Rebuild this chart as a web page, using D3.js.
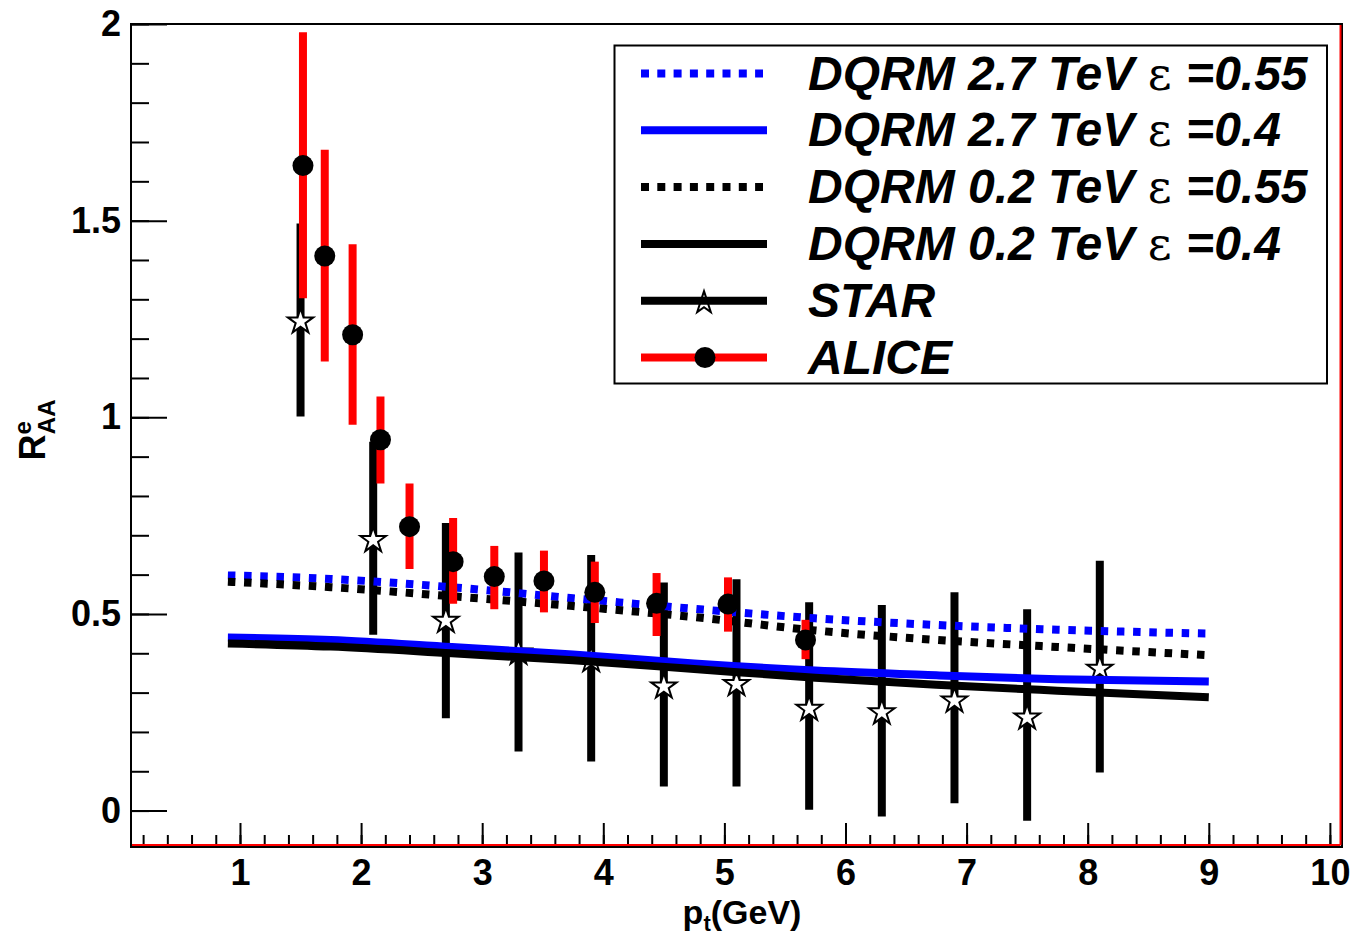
<!DOCTYPE html>
<html>
<head>
<meta charset="utf-8">
<script src="https://cdn.jsdelivr.net/npm/d3@7"></script>
<style>
  body { margin: 0; background: #fff; }
  text { font-family: "Liberation Sans", Arial, sans-serif; font-weight: bold; }
</style>
</head>
<body>
<div class="canvas"></div>
<script>
// model curves (pt in GeV)
const curveX = [0.9, 1.75, 2.75, 3.75, 4.75, 5.75, 6.75, 7.75, 9.0];
const lhc055 = [0.598, 0.589, 0.568, 0.540, 0.513, 0.489, 0.472, 0.460, 0.450];
const lhc04 = [0.440, 0.434, 0.416, 0.397, 0.374, 0.356, 0.344, 0.334, 0.328];
const rhic055 = [0.582, 0.568, 0.545, 0.520, 0.492, 0.458, 0.434, 0.416, 0.395];
const rhic04 = [0.425, 0.417, 0.400, 0.382, 0.360, 0.338, 0.320, 0.305, 0.288];

// STAR data
const starX = [1.5, 2.1, 2.7, 3.3, 3.9, 4.5, 5.1, 5.7, 6.3, 6.9, 7.5, 8.1];
const starY = [1.246, 0.690, 0.485, 0.404, 0.385, 0.318, 0.324, 0.261, 0.252, 0.282, 0.239, 0.363];
const starHi = [1.493, 0.938, 0.731, 0.656, 0.650, 0.580, 0.588, 0.530, 0.523, 0.555, 0.512, 0.635];
const starLo = [1.002, 0.447, 0.235, 0.150, 0.125, 0.061, 0.061, 0.002, -0.015, 0.019, -0.026, 0.097];

// ALICE data
const aliceX = [1.52, 1.70, 1.93, 2.16, 2.40, 2.76, 3.10, 3.51, 3.93, 4.44, 5.03, 5.67];
const aliceY = [1.640, 1.410, 1.210, 0.943, 0.722, 0.633, 0.595, 0.584, 0.555, 0.527, 0.525, 0.434];
const aliceHi = [1.979, 1.680, 1.440, 1.053, 0.832, 0.744, 0.673, 0.661, 0.633, 0.604, 0.593, 0.485];
const aliceLo = [1.303, 1.142, 0.981, 0.832, 0.614, 0.526, 0.512, 0.504, 0.477, 0.444, 0.455, 0.385];

const xTicks = [1, 2, 3, 4, 5, 6, 7, 8, 9, 10];
const yTicks = [0, 0.5, 1, 1.5, 2];
const legendNames = ['DQRM 2.7 TeV ', 'DQRM 2.7 TeV ', 'DQRM 0.2 TeV ', 'DQRM 0.2 TeV ', 'STAR', 'ALICE'];
const legendEps = ['=0.55', '=0.4', '=0.55', '=0.4', null, null];

const width = 1353, height = 936;

const svg = d3.select('.canvas').append('svg')
    .attr('width', width)
    .attr('height', height);

const x = d3.scaleLinear().domain([0.1, 10.1]).range([131, 1342]);
const y = d3.scaleLinear().domain([-0.09, 2]).range([846, 24]);

// minor ticks
svg.append('g')
    .attr('transform', 'translate(0,846)')
    .call(d3.axisBottom(x).tickValues(d3.range(0.2, 10.05, 0.2)).tickSize(-11).tickFormat(''))
    .call(g => g.select('.domain').remove())
    .selectAll('line').attr('stroke-width', 2);
svg.append('g')
    .attr('transform', 'translate(131,0)')
    .call(d3.axisLeft(y).tickValues(d3.range(0, 2.0001, 0.1)).tickSize(-18).tickFormat(''))
    .call(g => g.select('.domain').remove())
    .selectAll('line').attr('stroke-width', 2);

// major ticks + labels
const xAxis = svg.append('g')
    .attr('transform', 'translate(0,846)')
    .call(d3.axisBottom(x).tickValues(xTicks).tickSize(-23).tickPadding(13).tickFormat(d3.format('d')));
xAxis.select('.domain').remove();
xAxis.selectAll('line').attr('stroke-width', 2);
xAxis.selectAll('text').style('font-size', '36px').attr('fill', '#000');

const yAxis = svg.append('g')
    .attr('transform', 'translate(131,0)')
    .call(d3.axisLeft(y).tickValues(yTicks).tickSize(-36).tickPadding(10).tickFormat(d => d));
yAxis.select('.domain').remove();
yAxis.selectAll('line').attr('stroke-width', 2);
yAxis.selectAll('text').style('font-size', '36px').attr('fill', '#000');

// frame
svg.append('rect')
    .attr('x', 131).attr('y', 24)
    .attr('width', 1342 - 131).attr('height', 847 - 24)
    .attr('fill', 'none').attr('stroke', '#000').attr('stroke-width', 2);
svg.append('line') // red lines inside the bottom and right edge
    .attr('x1', 132).attr('x2', 1340.5).attr('y1', 845).attr('y2', 845)
    .attr('stroke', 'red').attr('stroke-width', 2);
svg.append('line')
    .attr('x1', 1340.5).attr('x2', 1340.5).attr('y1', 25).attr('y2', 845)
    .attr('stroke', 'red').attr('stroke-width', 2);

// STAR error bars and stars
svg.append('g').selectAll('line')
    .data(starX)
    .enter().append('line')
    .attr('x1', d => x(d)).attr('x2', d => x(d))
    .attr('y1', (d, i) => y(starHi[i])).attr('y2', (d, i) => y(starLo[i]))
    .attr('stroke', '#000').attr('stroke-width', 8);
svg.append('g').selectAll('path')
    .data(starX)
    .enter().append('path')
    .attr('d', d3.symbol(d3.symbolStar, 200))
    .attr('transform', (d, i) => `translate(${x(d)},${y(starY[i]) + 1})`)
    .attr('fill', '#fff').attr('stroke', '#000').attr('stroke-width', 2);

// model curves
const line = d3.line()
    .x((d, i) => x(curveX[i]))
    .y(d => y(d))
    .curve(d3.curveMonotoneX);
const curves = [
    { v: lhc055, c: 'blue', dash: '7.5,8.7' },
    { v: lhc04, c: 'blue', dash: null },
    { v: rhic055, c: '#000', dash: '7.5,8.7' },
    { v: rhic04, c: '#000', dash: null }
];
curves.forEach(k => {
    svg.append('path')
        .attr('d', line(k.v))
        .attr('fill', 'none')
        .attr('stroke', k.c)
        .attr('stroke-width', 8)
        .attr('stroke-dasharray', k.dash);
});

// ALICE error bars and circles
svg.append('g').selectAll('line')
    .data(aliceX)
    .enter().append('line')
    .attr('x1', d => x(d)).attr('x2', d => x(d))
    .attr('y1', (d, i) => y(aliceHi[i])).attr('y2', (d, i) => y(aliceLo[i]))
    .attr('stroke', 'red').attr('stroke-width', 8);
svg.append('g').selectAll('circle')
    .data(aliceX)
    .enter().append('circle')
    .attr('cx', d => x(d)).attr('cy', (d, i) => y(aliceY[i]))
    .attr('r', 10.5).attr('fill', '#000');

// legend
const legend = svg.append('g');
legend.append('rect')
    .attr('x', 614.5).attr('y', 45.5)
    .attr('width', 1327 - 614.5).attr('height', 383.5 - 45.5)
    .attr('fill', '#fff').attr('stroke', '#000').attr('stroke-width', 2);

const rowY = i => 73.5 + i * 56.8;
legendNames.forEach((name, i) => {
    const cy = rowY(i);
    const col = (i === 0 || i === 1) ? 'blue' : (i === 5 ? 'red' : '#000');
    const dotted = (i === 0 || i === 2);
    legend.append('line')
        .attr('x1', 641).attr('x2', dotted ? 763 : 767)
        .attr('y1', cy).attr('y2', cy)
        .attr('stroke', col).attr('stroke-width', 8)
        .attr('stroke-dasharray', dotted ? '8,8.3' : null);
    if (i === 4) {
        legend.append('path')
            .attr('d', d3.symbol(d3.symbolStar, 150))
            .attr('transform', `translate(704,${cy + 2})`)
            .attr('fill', 'none').attr('stroke', '#000').attr('stroke-width', 2);
    }
    if (i === 5) {
        legend.append('circle')
            .attr('cx', 705).attr('cy', cy).attr('r', 10.5).attr('fill', '#000');
    }
    const t = legend.append('text')
        .attr('x', 808).attr('y', cy + 16)
        .style('font-size', '48px').style('font-style', 'italic');
    t.append('tspan').text(name);
    if (legendEps[i]) {
        t.append('tspan').text('ε ')
            .style('font-family', '"DejaVu Serif", serif')
            .style('font-size', '46px')
            .style('font-style', 'normal').style('font-weight', 'normal');
        t.append('tspan').text(legendEps[i]);
    }
});

// axis titles
const xt = svg.append('text')
    .attr('x', 742).attr('y', 924)
    .attr('text-anchor', 'middle')
    .style('font-size', '34px');
xt.append('tspan').text('p');
xt.append('tspan').text('t').attr('dy', 7).style('font-size', '22px');
xt.append('tspan').text('(GeV)').attr('dy', -7);

const yt = svg.append('text')
    .attr('transform', 'translate(45,430) rotate(-90)')
    .attr('text-anchor', 'middle')
    .style('font-size', '36px');
yt.append('tspan').text('R');
yt.append('tspan').text('e').attr('dy', -14).style('font-size', '24px');
yt.append('tspan').text('AA').attr('dx', -13).attr('dy', 24).style('font-size', '24px');
</script>
</body>
</html>
